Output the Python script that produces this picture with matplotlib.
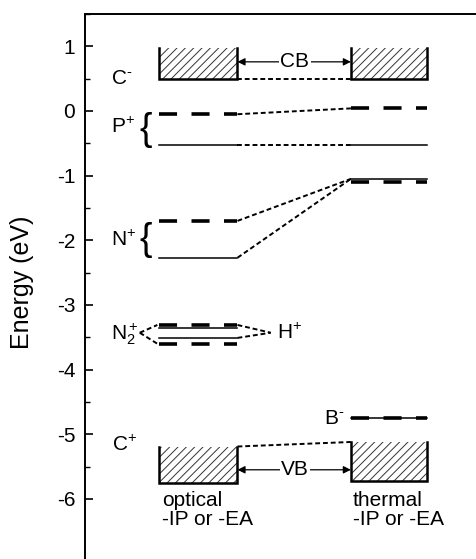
import matplotlib
matplotlib.use('Agg')
from matplotlib import pyplot as plt
from matplotlib.patches import Rectangle

plt.rcParams['font.family'] = ['Liberation Sans', 'DejaVu Sans']
plt.rcParams['mathtext.fontset'] = 'custom'
plt.rcParams['mathtext.rm'] = 'Liberation Sans'
plt.rcParams['mathtext.it'] = 'Liberation Sans'
plt.rcParams['hatch.linewidth'] = 0.7
plt.rcParams['axes.unicode_minus'] = False

# x spans of the two columns (arbitrary units, axis 0..10)
opticalX = (1.9, 3.9)
thermalX = (6.8, 8.75)

# band boxes: (top, bottom) in eV
cbOptical = (0.97, 0.50)
cbThermal = (0.97, 0.50)
vbOptical = (-5.19, -5.75)
vbThermal = (-5.12, -5.72)

# defect levels (eV)
pSolid = (-0.52, -0.52)     # optical, thermal
pDashed = (-0.05, 0.04)
nSolid = (-2.27, -1.05)
nDashed = (-1.70, -1.10)
n2Solid = [-3.35, -3.51]
n2Dashed = [-3.31, -3.60]
bLevel = -4.75

yTicks = [1, 0, -1, -2, -3, -4, -5, -6]

fig = plt.figure(figsize=(4.76, 5.59), dpi=100)
ax = fig.add_axes([85 / 476, 0, 391 / 476, 545 / 559])
ax.set_xlim(0, 10)
ax.set_ylim(-6.93, 1.5)

thick = dict(color='black', lw=2.6, linestyle=(0, (5, 4)), solid_capstyle='butt')
thin = dict(color='black', lw=1.1)
conn = dict(color='black', lw=1.4, linestyle=(0, (2.5, 1.5)))


def box(xs, tb):
    ax.add_patch(Rectangle((xs[0], tb[1]), xs[1] - xs[0], tb[0] - tb[1],
                           fill=False, hatch='////', lw=0, edgecolor='#333333'))
    ax.plot([xs[0], xs[0], xs[1], xs[1]], [tb[0], tb[1], tb[1], tb[0]],
            color='black', lw=1.8, solid_joinstyle='miter')


box(opticalX, cbOptical)
box(thermalX, cbThermal)
box(opticalX, vbOptical)
box(thermalX, vbThermal)

# band connectors
ax.plot([opticalX[1], thermalX[0]], [cbOptical[1], cbThermal[1]], **conn)
ax.plot([opticalX[1], thermalX[0]], [vbOptical[0], vbThermal[0]], **conn)

# CB / VB arrows
for lab, yy in [('CB', 0.76), ('VB', -5.55)]:
    for end in (opticalX[1], thermalX[0]):
        ax.annotate('', xy=(end, yy), xytext=(5.37, yy),
                    arrowprops=dict(arrowstyle='-|>', color='black', lw=0.9,
                                    mutation_scale=11, shrinkA=0, shrinkB=0))
    ax.text(5.37, yy, lab, ha='center', va='center', fontsize=15,
            bbox=dict(facecolor='white', edgecolor='none', pad=1))

# P+ and N+ levels
for solid, dashed in [(pSolid, pDashed), (nSolid, nDashed)]:
    ax.plot(opticalX, [solid[0]] * 2, **thin)
    ax.plot(thermalX, [solid[1]] * 2, **thin)
    ax.plot(opticalX, [dashed[0]] * 2, **thick)
    ax.plot(thermalX, [dashed[1]] * 2, **thick)
    ax.plot([opticalX[1], thermalX[0]], [solid[0], solid[1]], **conn)
    ax.plot([opticalX[1], thermalX[0]], [dashed[0], max(solid[1], dashed[1])], **conn)

# N2+ levels
for s in n2Solid:
    ax.plot(opticalX, [s, s], **thin)
for d in n2Dashed:
    ax.plot(opticalX, [d, d], **thick)
ax.plot([1.4, opticalX[0] - 0.05], [-3.43, n2Dashed[0]], **conn)
ax.plot([1.4, opticalX[0] - 0.05], [-3.43, n2Dashed[1]], **conn)
ax.plot([opticalX[1], 4.75], [n2Dashed[0], -3.43], **conn)
ax.plot([opticalX[1], 4.75], [n2Solid[1], -3.43], **conn)

# B- level
ax.plot(thermalX, [bLevel] * 2, **thin)
ax.plot(thermalX, [bLevel] * 2, **thick)

# labels
fs = 15
ax.text(0.66, 0.51, r'C$^{\text{-}}$', fontsize=fs, va='center')
ax.text(0.66, -0.25, r'P$^{+}$', fontsize=fs, va='center')
ax.text(0.66, -2.0, r'N$^{+}$', fontsize=fs, va='center')
ax.text(0.66, -3.46, r'$\mathrm{N}_2^+$', fontsize=fs, va='center')
ax.text(0.69, -5.16, r'C$^{+}$', fontsize=fs, va='center')
ax.text(4.9, -3.43, r'H$^{+}$', fontsize=fs, va='center')
ax.text(6.1, -4.75, r'B$^{\text{-}}$', fontsize=fs, va='center')
ax.text(1.4, -0.29, '{', fontsize=27, va='center')
ax.text(1.4, -2.0, '{', fontsize=27, va='center')
ax.text(1.97, -6.02, 'optical', fontsize=15, va='center')
ax.text(1.97, -6.32, '-IP or -EA', fontsize=15, va='center')
ax.text(6.85, -6.02, 'thermal', fontsize=15, va='center')
ax.text(6.85, -6.32, '-IP or -EA', fontsize=15, va='center')

fig.text(22 / 476, 1 - 282 / 559, 'Energy (eV)', rotation=90,
         ha='center', va='center', fontsize=18)

# axes styling
ax.spines['right'].set_visible(False)
ax.spines['bottom'].set_visible(False)
ax.spines['left'].set_linewidth(1.4)
ax.spines['top'].set_linewidth(1.4)
ax.set_xticks([])
ax.set_yticks(yTicks)
ax.set_yticks([y + 0.5 for y in yTicks], minor=True)
ax.tick_params(axis='y', which='major', direction='in', length=5.8, width=1.2,
               pad=7, labelsize=15)
ax.tick_params(axis='y', which='minor', direction='in', length=3.5, width=1.0)

fig.savefig('out.png', dpi=100)
